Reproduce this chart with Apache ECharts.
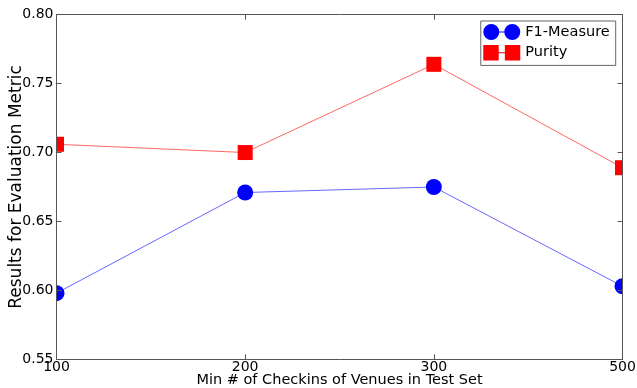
<!DOCTYPE html>
<html>
<head>
<meta charset="utf-8">
<script src="https://cdn.jsdelivr.net/npm/echarts@6/dist/echarts.min.js"></script>
<style>html,body{margin:0;padding:0;background:#fff}#c{width:637px;height:388px}</style>
</head>
<body>
<div id="c"></div>
<script>
const categories = ['100', '200', '300', '500'];
const f1Measure = [0.598, 0.671, 0.675, 0.603];
const purity = [0.706, 0.700, 0.764, 0.689];
const yTicks = [0.55, 0.60, 0.65, 0.70, 0.75, 0.80];

const chart = echarts.init(document.getElementById('c'), null, {renderer: 'canvas'});
const font = 'DejaVu Sans';
const axisCol = '#555';
const circPath = 'path://M0,8A8,8,0,1,1,16,8A8,8,0,1,1,0,8ZM8,7.5H29V8.5H8ZM21,8A8,8,0,1,1,37,8A8,8,0,1,1,21,8Z';
const rectPath = 'path://M0,0.5H15V15.5H0ZM7,7.5H29V8.5H7ZM21,0.5H36V15.5H21Z';
const GL = 56.5, GR = 14.5, GT = 14.7, GB = 28.7;

chart.setOption({
  animation: false,
  textStyle: {fontFamily: font},
  grid: {left: GL, right: GR, top: GT, bottom: GB, containLabel: false, outerBoundsMode: 'none'},
  graphic: [
    {type: 'rect', z: 5, silent: true, shape: {x: 0, y: 0, width: GL, height: 388}, style: {fill: '#fff'}},
    {type: 'rect', z: 5, silent: true, shape: {x: 637 - GR, y: 0, width: GR, height: 388}, style: {fill: '#fff'}}
  ],
  legend: {
    right: 21.3, top: 21, orient: 'vertical', z: 20,
    backgroundColor: '#fff', borderColor: '#666', borderWidth: 1,
    padding: [3, 6, 5, 2.5], itemGap: 5, itemWidth: 37, itemHeight: 16,
    textStyle: {fontFamily: font, fontSize: 14.5, color: '#000'},
    data: [
      {name: 'F1-Measure', icon: circPath, itemStyle: {color: '#0000ff'}},
      {name: 'Purity', icon: rectPath, itemStyle: {color: '#ff0000'}}
    ]
  },
  xAxis: [{
    type: 'category', data: categories, boundaryGap: false, z: 10,
    name: 'Min # of Checkins of Venues in Test Set', nameLocation: 'middle', nameGap: 13,
    nameMoveOverlap: false,
    nameTextStyle: {fontFamily: font, fontSize: 14.5, color: '#000'},
    axisLine: {onZero: false, lineStyle: {color: axisCol, width: 1}},
    axisTick: {inside: true, length: 5, lineStyle: {color: axisCol}},
    axisLabel: {fontFamily: font, fontSize: 14, color: '#000', margin: 1},
    splitLine: {show: false}
  }, {
    type: 'category', data: categories, boundaryGap: false, position: 'top', z: 10,
    axisLine: {onZero: false, lineStyle: {color: axisCol, width: 1}},
    axisTick: {inside: true, length: 5, lineStyle: {color: axisCol}},
    axisLabel: {show: false}, splitLine: {show: false}
  }],
  yAxis: [{
    type: 'value', min: 0.55, max: 0.80, interval: 0.05, z: 10,
    name: 'Results for Evaluation Metric', nameLocation: 'middle', nameGap: 31,
    nameMoveOverlap: false,
    nameTextStyle: {fontFamily: font, fontSize: 17, color: '#000'},
    axisLine: {show: true, lineStyle: {color: axisCol, width: 1}},
    axisTick: {show: true, inside: true, length: 5, lineStyle: {color: axisCol}},
    axisLabel: {fontFamily: font, fontSize: 14, color: '#000', margin: 3,
      formatter: v => { const t = yTicks.find(x => Math.abs(x - v) < 1e-6); return (t !== undefined ? t : v).toFixed(2); }},
    splitLine: {show: false}
  }, {
    type: 'value', min: 0.55, max: 0.80, interval: 0.05, position: 'right', z: 10,
    axisLine: {show: true, lineStyle: {color: axisCol, width: 1}},
    axisTick: {show: true, inside: true, length: 5, lineStyle: {color: axisCol}},
    axisLabel: {show: false}, splitLine: {show: false}
  }],
  series: [{
    name: 'F1-Measure', type: 'line', data: f1Measure, z: 2,
    symbol: 'circle', symbolSize: 16, clip: false,
    lineStyle: {color: '#0000ff', width: 1, opacity: 0.6},
    itemStyle: {color: '#0000ff'}
  }, {
    name: 'Purity', type: 'line', data: purity, z: 2,
    symbol: 'rect', symbolSize: 15, clip: false,
    lineStyle: {color: '#ff0000', width: 1, opacity: 0.6},
    itemStyle: {color: '#ff0000'}
  }]
});
</script>
</body>
</html>
